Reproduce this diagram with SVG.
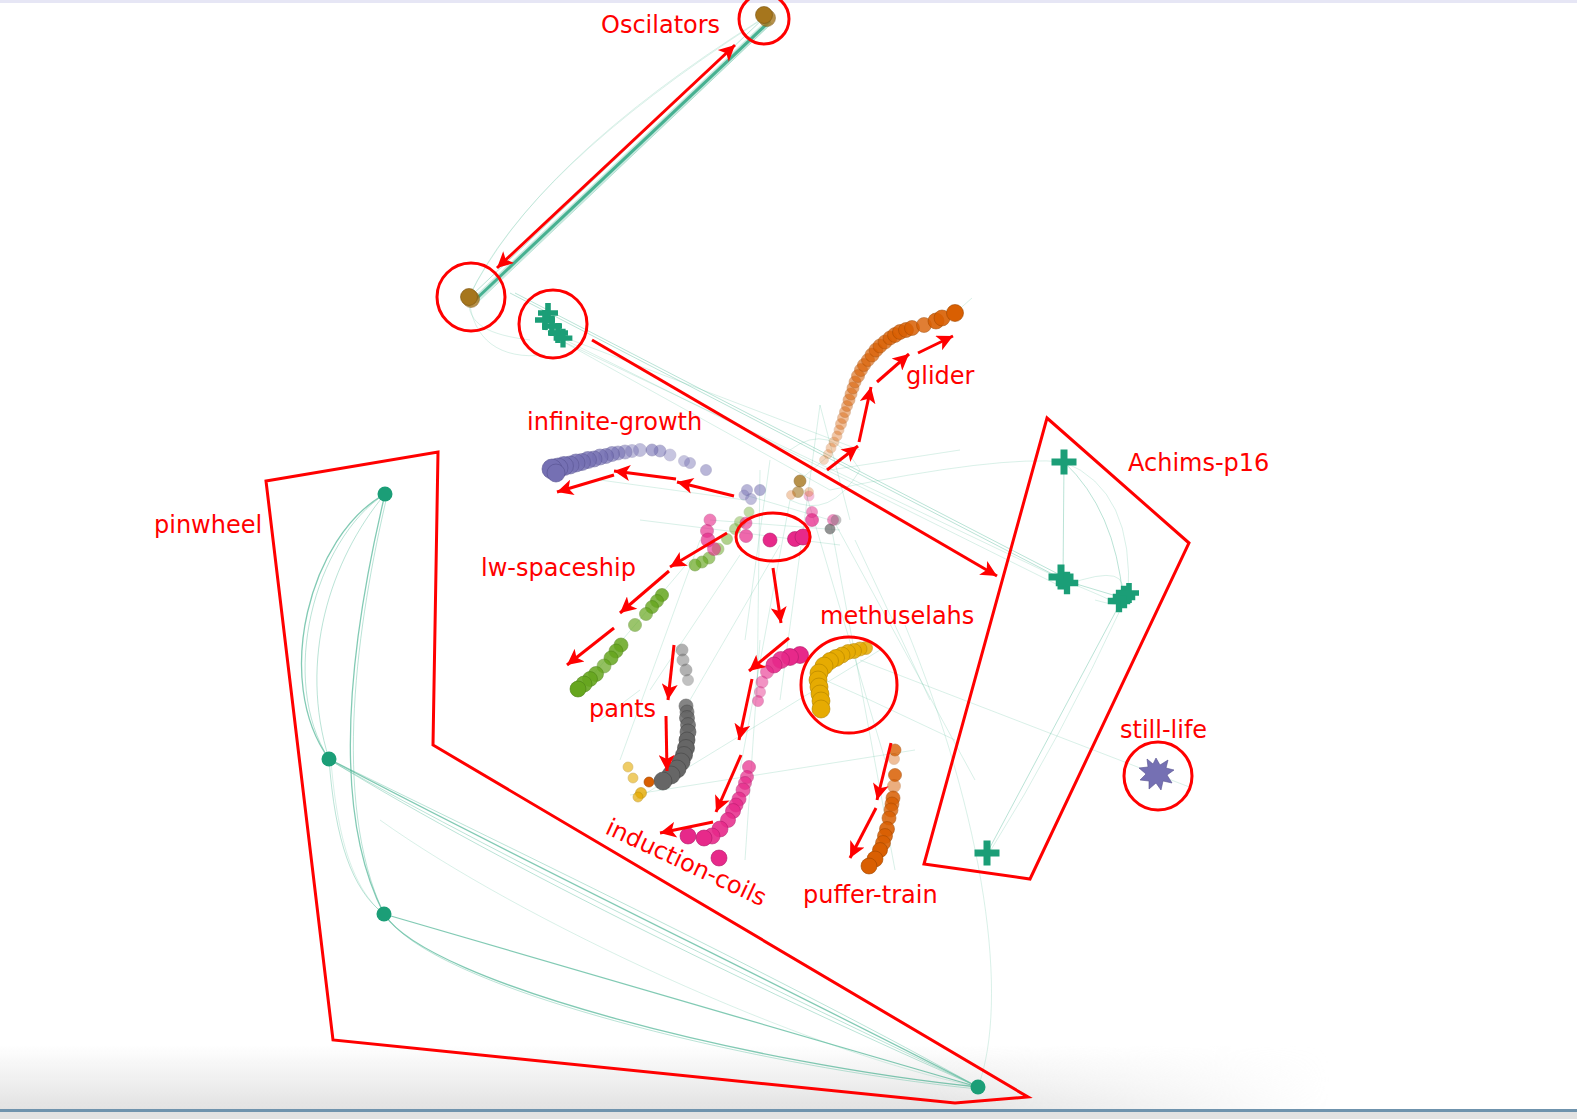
<svg xmlns="http://www.w3.org/2000/svg" width="1577" height="1119" viewBox="0 0 1577 1119">
<style>
.lbl{font-family:"DejaVu Sans","Verdana",sans-serif;font-size:24px;fill:#ff0000}
.ann{fill:none;stroke:#ff0000;stroke-width:3}
.arr{fill:none;stroke:#ff0000;stroke-width:3;marker-end:url(#ah)}
.e{fill:none;stroke:#66c2a5;stroke-width:1;stroke-opacity:.45}
.ef{fill:none;stroke:#66c2a5;stroke-width:1;stroke-opacity:.25}
.es{fill:none;stroke:#1b9e77;stroke-width:1.3;stroke-opacity:.55}
.o circle{fill:#d95f02;stroke:#a04600;stroke-width:.6}
.p circle{fill:#7570b3;stroke:#55508f;stroke-width:.6}
.k circle{fill:#e7298a;stroke:#b0196a;stroke-width:.6}
.g circle{fill:#66a61e;stroke:#4a7f12;stroke-width:.6}
.y circle{fill:#e6ab02;stroke:#b08200;stroke-width:.6}
.b circle{fill:#a6761d;stroke:#7a5410;stroke-width:.6}
.gr circle{fill:#666666;stroke:#444;stroke-width:.6}
.t{fill:#1b9e77}
</style>
<defs>
<marker id="ah" viewBox="0 0 10 10" refX="10" refY="5" markerWidth="20" markerHeight="16" orient="auto-start-reverse" markerUnits="userSpaceOnUse">
<path d="M0,0 L10,5 L0,10 L2.5,5 z" fill="#ff0000"/>
</marker>
<path id="plus" d="M-3.5,-12.5 h7 v9 h9 v7 h-9 v9 h-7 v-9 h-9 v-7 h9 z"/>
<linearGradient id="bg" x1="0" y1="0" x2="0" y2="1">
<stop offset="0" stop-color="#e2e2e2" stop-opacity="0"/>
<stop offset="1" stop-color="#e2e2e2" stop-opacity="1"/>
</linearGradient>
<linearGradient id="hg" x1="0" y1="0" x2="1" y2="0">
<stop offset="0" stop-color="#fff" stop-opacity="1"/>
<stop offset=".7" stop-color="#fff" stop-opacity="1"/>
<stop offset="1" stop-color="#fff" stop-opacity="0"/>
</linearGradient>
<mask id="hm"><rect x="0" y="1040" width="1330" height="75" fill="url(#hg)"/></mask>
</defs>
<rect width="1577" height="1119" fill="#ffffff"/>
<rect x="0" y="0" width="1577" height="3" fill="#e6e6f5"/>
<rect x="0" y="1045" width="1330" height="65" fill="url(#bg)" mask="url(#hm)"/>
<rect x="0" y="1109" width="1577" height="3" fill="#6f93ad"/>
<rect x="0" y="1112" width="1577" height="7" fill="#e2e2e2"/>

<g id="connectors">
<path d="M474,301 L770,21" fill="none" stroke="#66c2a5" stroke-width="6" stroke-opacity=".35"/>
<path d="M474,301 L770,21" fill="none" stroke="#1b9e77" stroke-width="3" stroke-opacity=".75"/>
<path class="e" d="M477,303 L772,23"/>
<path class="e" d="M470,297 L766,16"/>
<path class="ef" d="M469,297 Q535,162 760,20"/>
<path class="ef" d="M469,297 Q528,170 758,22"/>
<path class="ef" d="M469,297 C466,325 490,335 530,340"/>
<path class="ef" d="M469,297 C472,340 500,360 545,355"/>
<path class="e" d="M510,293 L1060,578"/>
<path class="e" d="M515,293 L1062,576"/>
<path class="ef" d="M560,340 L1063,580"/>
<path class="ef" d="M555,335 L1058,585"/>
<path class="ef" d="M560,340 L830,490"/>
<path class="ef" d="M545,330 L860,450"/>
<path class="e" d="M1064,462 L1063,580"/>
<path class="e" d="M1064,462 Q1115,510 1123,598"/>
<path class="ef" d="M1064,462 Q1135,490 1128,598"/>
<path class="ef" d="M1064,462 Q1000,455 830,490"/>
<path class="e" d="M1063,580 L1123,598"/>
<path class="ef" d="M1063,580 Q1150,615 1095,600"/>
<path class="ef" d="M1066,585 Q1135,560 1120,600"/>
<path class="e" d="M1123,598 L987,853"/>
<path class="ef" d="M1125,600 Q1060,740 989,853"/>
<path class="ef" d="M860,660 L1192,788"/>
<path class="ef" d="M978,1087 C1010,1000 985,820 905,625"/>
<path class="ef" d="M770,460 L745,640"/>
<path class="ef" d="M820,405 L780,700"/>
<path class="ef" d="M820,405 L850,520"/>
<path class="ef" d="M760,470 L757,700"/>
<path class="ef" d="M790,500 L740,770"/>
<path class="ef" d="M805,490 L885,760"/>
<path class="ef" d="M830,520 L895,870"/>
<path class="ef" d="M836,525 L975,780"/>
<path class="ef" d="M710,520 L840,530"/>
<path class="ef" d="M745,495 L830,520"/>
<path class="ef" d="M640,520 L840,545"/>
<path class="ef" d="M600,480 L745,500"/>
<path class="ef" d="M700,540 L620,760"/>
<path class="ef" d="M740,555 L650,690"/>
<path class="ef" d="M780,545 L690,700"/>
<path class="ef" d="M880,650 L635,800"/>
<path class="ef" d="M915,750 L630,795"/>
<path class="ef" d="M825,680 L870,700 L955,740"/>
<path class="ef" d="M640,690 L600,720"/>
<path class="ef" d="M760,640 L745,860"/>
<path class="ef" d="M790,450 Q830,420 860,470 Q830,520 790,500"/>
<path class="ef" d="M830,470 L960,450"/>
<path class="ef" d="M855,540 L930,700"/>
<path class="ef" d="M955,313 L972,298"/>
<path class="ef" d="M826,458 L800,480"/>
<path class="ef" d="M690,560 L580,690"/>
<path class="es" d="M385,494 C310,535 272,680 329,759"/>
<path class="e" d="M385,494 C314,540 278,680 329,759"/>
<path class="e" d="M385,494 C330,560 298,660 329,759"/>
<path class="es" d="M385,494 C355,620 325,800 384,914"/>
<path class="e" d="M387,496 C358,620 330,800 384,914"/>
<path class="e" d="M329,759 C335,840 352,890 384,914"/>
<path class="ef" d="M331,761 C338,845 355,892 386,916"/>
<path class="es" d="M329,759 C520,860 790,990 978,1087"/>
<path class="e" d="M329,759 C525,855 795,985 978,1087"/>
<path class="e" d="M331,761 C515,865 785,995 978,1087"/>
<path class="e" d="M330,760 C510,870 780,1000 976,1086"/>
<path class="es" d="M384,914 L978,1087"/>
<path class="es" d="M384,914 C430,985 760,1065 978,1087"/>
<path class="e" d="M386,916 C435,990 765,1068 978,1089"/>
<path class="ef" d="M380,820 C520,920 800,1050 978,1087"/>
</g>

<g id="oscillators">
<g class="b"><circle cx="767" cy="18" r="8.5" opacity=".8"/><circle cx="764" cy="15" r="8.5"/><circle cx="471" cy="299" r="8.5" opacity=".8"/><circle cx="469" cy="297" r="8.5"/></g>
</g>

<g id="achims-crosses" class="t">
<use href="#plus" transform="translate(548,313) scale(.8)"/>
<use href="#plus" transform="translate(545,320) scale(.8)"/>
<use href="#plus" transform="translate(552,326) scale(.8)"/>
<use href="#plus" transform="translate(558,333) scale(.8)"/>
<use href="#plus" transform="translate(563,338) scale(.75)"/>
<use href="#plus" transform="translate(1064,462)"/>
<use href="#plus" transform="translate(1061,577)"/>
<use href="#plus" transform="translate(1067,583) scale(.9)"/>
<use href="#plus" transform="translate(1119,601) scale(.9)"/>
<use href="#plus" transform="translate(1124,597) scale(.9)"/>
<use href="#plus" transform="translate(1129,593) scale(.8)"/>
<use href="#plus" transform="translate(987,853)"/>
</g>

<g id="pinwheel-nodes" class="t">
<circle cx="385" cy="494" r="7.5"/><circle cx="329" cy="759" r="7.5"/><circle cx="384" cy="914" r="7.5"/><circle cx="978" cy="1087" r="7.5"/>
</g>

<g id="still-life-node">
<polygon points="1156,758 1160,765 1168,760 1166,768 1174,770 1167,775 1172,783 1163,781 1161,790 1156,783 1149,789 1149,781 1140,780 1146,774 1139,768 1148,767 1147,759 1153,764" fill="#7570b3" stroke="#55508f" stroke-width=".6"/>
</g>

<g id="glider-dots" class="o">
<circle cx="824" cy="460" r="4.5" opacity=".25"/><circle cx="828" cy="454" r="4.5" opacity=".25"/><circle cx="831" cy="448" r="5" opacity=".3"/><circle cx="834" cy="442" r="5" opacity=".3"/>
<circle cx="837" cy="436" r="5" opacity=".35"/><circle cx="839" cy="430" r="5" opacity=".35"/><circle cx="841" cy="424" r="5.5" opacity=".4"/><circle cx="843" cy="418" r="5.5" opacity=".4"/>
<circle cx="845" cy="412" r="5.5" opacity=".45"/><circle cx="847" cy="406" r="5.5" opacity=".45"/><circle cx="849" cy="400" r="6" opacity=".5"/><circle cx="851" cy="394" r="6" opacity=".5"/>
<circle cx="853" cy="388" r="6" opacity=".55"/><circle cx="855" cy="382" r="6" opacity=".55"/><circle cx="858" cy="376" r="6.5" opacity=".6"/><circle cx="861" cy="370" r="6.5" opacity=".6"/>
<circle cx="864" cy="365" r="6.5" opacity=".65"/><circle cx="868" cy="360" r="6.5" opacity=".65"/><circle cx="872" cy="355" r="7" opacity=".7"/><circle cx="876" cy="350" r="7" opacity=".7"/>
<circle cx="880" cy="346" r="7" opacity=".75"/><circle cx="885" cy="342" r="7" opacity=".75"/><circle cx="890" cy="338" r="7" opacity=".8"/><circle cx="895" cy="335" r="7.5" opacity=".8"/>
<circle cx="900" cy="332" r="7.5" opacity=".85"/><circle cx="906" cy="330" r="7.5" opacity=".85"/><circle cx="912" cy="328" r="7.5" opacity=".85"/><circle cx="924" cy="325" r="7.5" opacity=".8"/>
<circle cx="936" cy="321" r="8" opacity=".9"/><circle cx="942" cy="318" r="8" opacity=".9"/><circle cx="955" cy="313" r="8.5"/>
</g>

<g id="infinite-growth-dots" class="p">
<circle cx="747" cy="490" r="5.5" opacity=".5"/><circle cx="751" cy="499" r="5.5" opacity=".45"/><circle cx="760" cy="490" r="5.5" opacity=".55"/><circle cx="744" cy="495" r="5" opacity=".4"/>
<circle cx="706" cy="470" r="5.5" opacity=".5"/><circle cx="690" cy="463" r="5.5" opacity=".45"/><circle cx="684" cy="461" r="5.5" opacity=".4"/>
<circle cx="670" cy="455" r="6" opacity=".4"/><circle cx="660" cy="451" r="6" opacity=".55"/><circle cx="652" cy="450" r="6" opacity=".6"/>
<circle cx="640" cy="450" r="6.5" opacity=".45"/><circle cx="632" cy="451" r="6.5" opacity=".45"/><circle cx="625" cy="452" r="7" opacity=".55"/>
<circle cx="618" cy="453" r="7" opacity=".6"/><circle cx="612" cy="454" r="7.5" opacity=".65"/><circle cx="606" cy="456" r="7.5" opacity=".7"/>
<circle cx="600" cy="457" r="8" opacity=".7"/><circle cx="594" cy="459" r="8" opacity=".75"/><circle cx="588" cy="460" r="8.5" opacity=".8"/>
<circle cx="582" cy="462" r="8.5" opacity=".8"/><circle cx="576" cy="463" r="9" opacity=".85"/><circle cx="570" cy="465" r="9" opacity=".85"/>
<circle cx="564" cy="466" r="9.5" opacity=".9"/><circle cx="558" cy="468" r="10" opacity=".9"/><circle cx="552" cy="469" r="10"/><circle cx="556" cy="473" r="9"/>
</g>

<g id="lw-spaceship-dots" class="g">
<circle cx="749" cy="512" r="5" opacity=".4"/><circle cx="740" cy="522" r="5.5" opacity=".4"/><circle cx="735" cy="529" r="5.5" opacity=".45"/><circle cx="727" cy="539" r="5.5" opacity=".5"/>
<circle cx="718" cy="549" r="6" opacity=".5"/><circle cx="709" cy="558" r="6" opacity=".6"/><circle cx="702" cy="562" r="6" opacity=".65"/><circle cx="695" cy="565" r="6" opacity=".7"/>
<circle cx="662" cy="595" r="6.5" opacity=".85"/><circle cx="657" cy="601" r="6.5" opacity=".8"/><circle cx="652" cy="607" r="6.5" opacity=".8"/><circle cx="646" cy="614" r="6.5" opacity=".7"/><circle cx="635" cy="625" r="6.5" opacity=".65"/>
<circle cx="621" cy="645" r="7" opacity=".85"/><circle cx="616" cy="651" r="7" opacity=".85"/><circle cx="611" cy="658" r="7" opacity=".85"/><circle cx="604" cy="666" r="7" opacity=".7"/>
<circle cx="596" cy="674" r="7.5" opacity=".85"/><circle cx="590" cy="679" r="7.5" opacity=".9"/><circle cx="584" cy="684" r="8" opacity=".9"/><circle cx="578" cy="689" r="8"/>
</g>

<g id="pink-dots" class="k">
<circle cx="710" cy="520" r="6" opacity=".6"/><circle cx="707" cy="531" r="6.5" opacity=".65"/><circle cx="708" cy="540" r="7" opacity=".7"/><circle cx="714" cy="549" r="6.5" opacity=".6"/>
<circle cx="746" cy="523" r="6" opacity=".6"/><circle cx="746" cy="536" r="6.5" opacity=".7"/>
<circle cx="770" cy="540" r="7"/><circle cx="795" cy="539" r="7.5"/><circle cx="803" cy="537" r="8"/>
<circle cx="812" cy="520" r="6.5" opacity=".75"/><circle cx="812" cy="512" r="5.5" opacity=".5"/><circle cx="833" cy="520" r="5.5" opacity=".5"/><circle cx="809" cy="496" r="5" opacity=".3"/>
<circle cx="800" cy="655" r="8.5"/><circle cx="790" cy="657" r="8.5"/><circle cx="781" cy="660" r="8.5" opacity=".9"/><circle cx="774" cy="665" r="8" opacity=".9"/>
<circle cx="767" cy="672" r="6.5" opacity=".6"/><circle cx="762" cy="682" r="6" opacity=".5"/><circle cx="760" cy="692" r="5.5" opacity=".45"/><circle cx="758" cy="701" r="5.5" opacity=".55"/>
<circle cx="749" cy="767" r="6.5" opacity=".7"/><circle cx="747" cy="777" r="6.5" opacity=".7"/><circle cx="745" cy="783" r="6.5" opacity=".7"/><circle cx="743" cy="790" r="7" opacity=".75"/>
<circle cx="739" cy="799" r="7" opacity=".8"/><circle cx="736" cy="805" r="7" opacity=".8"/><circle cx="733" cy="811" r="7.5" opacity=".85"/><circle cx="728" cy="820" r="7.5" opacity=".85"/>
<circle cx="720" cy="829" r="8" opacity=".9"/><circle cx="712" cy="836" r="8" opacity=".9"/><circle cx="704" cy="838" r="8"/><circle cx="688" cy="836" r="8"/><circle cx="719" cy="858" r="8"/>
</g>

<g id="methuselahs-dots" class="y">
<circle cx="866" cy="648" r="6.5" opacity=".85"/><circle cx="860" cy="649" r="7" opacity=".85"/><circle cx="854" cy="651" r="7.5" opacity=".9"/><circle cx="848" cy="652" r="7.5" opacity=".9"/>
<circle cx="842" cy="655" r="8" opacity=".9"/><circle cx="836" cy="658" r="8.5"/><circle cx="830" cy="661" r="8.5"/><circle cx="824" cy="666" r="9"/>
<circle cx="819" cy="673" r="9"/><circle cx="818" cy="680" r="9"/><circle cx="819" cy="687" r="9"/><circle cx="820" cy="694" r="9"/><circle cx="821" cy="701" r="9"/><circle cx="821" cy="709" r="9"/>
</g>

<g id="pants-dots" class="gr">
<circle cx="682" cy="650" r="6" opacity=".5"/><circle cx="683" cy="660" r="6" opacity=".45"/><circle cx="686" cy="670" r="6" opacity=".5"/><circle cx="688" cy="680" r="5.5" opacity=".4"/>
<circle cx="686" cy="706" r="7" opacity=".8"/><circle cx="687" cy="712" r="7" opacity=".8"/><circle cx="687" cy="718" r="7.5" opacity=".85"/><circle cx="688" cy="725" r="7.5" opacity=".85"/><circle cx="688" cy="732" r="8" opacity=".9"/>
<circle cx="687" cy="740" r="8"/><circle cx="686" cy="748" r="8.5"/><circle cx="684" cy="755" r="8.5"/><circle cx="681" cy="762" r="9"/><circle cx="677" cy="769" r="9"/><circle cx="671" cy="775" r="9"/><circle cx="663" cy="781" r="9"/>
</g>
<g id="small-dots">
<g class="y"><circle cx="628" cy="767" r="5" opacity=".6"/><circle cx="633" cy="778" r="5" opacity=".6"/><circle cx="641" cy="793" r="5.5" opacity=".8"/><circle cx="638" cy="797" r="5" opacity=".7"/></g>
<g class="o"><circle cx="649" cy="782" r="5"/></g>
<g class="b"><circle cx="800" cy="481" r="6" opacity=".8"/><circle cx="798" cy="492" r="5.5" opacity=".6"/></g>
<g class="o"><circle cx="809" cy="492" r="4.5" opacity=".3"/><circle cx="791" cy="495" r="4.5" opacity=".3"/></g>
<g class="gr"><circle cx="830" cy="529" r="5" opacity=".7"/><circle cx="836" cy="520" r="5" opacity=".4"/></g>
</g>

<g id="puffer-train-dots" class="o">
<circle cx="895" cy="750" r="6" opacity=".8"/><circle cx="894" cy="759" r="5.5" opacity=".4"/>
<circle cx="895" cy="775" r="6.5" opacity=".85"/><circle cx="894" cy="786" r="6.5" opacity=".5"/><circle cx="893" cy="798" r="7" opacity=".85"/>
<circle cx="892" cy="804" r="7" opacity=".8"/><circle cx="891" cy="810" r="7" opacity=".8"/><circle cx="889" cy="818" r="7" opacity=".85"/><circle cx="887" cy="829" r="7.5" opacity=".9"/>
<circle cx="885" cy="836" r="7.5" opacity=".9"/><circle cx="883" cy="843" r="7.5" opacity=".9"/><circle cx="880" cy="850" r="7.5"/><circle cx="875" cy="859" r="8"/><circle cx="869" cy="866" r="8"/>
</g>

<g id="annotations">
<circle class="ann" cx="764" cy="19" r="25"/>
<circle class="ann" cx="471" cy="297" r="34"/>
<circle class="ann" cx="553" cy="324" r="34"/>
<line x1="497" y1="268" x2="735" y2="45" class="ann" marker-start="url(#ah)" marker-end="url(#ah)"/>
<line class="arr" x1="592" y1="340" x2="997" y2="576"/>
<polygon class="ann" points="1047,418 1189,543 1030,879 924,864"/>
<circle class="ann" cx="1158" cy="776" r="34"/>
<polygon class="ann" points="266,481 438,452 433,745 1028,1097 955,1103 333,1040"/>
<ellipse class="ann" cx="773" cy="537" rx="37" ry="24"/>
<circle class="ann" cx="849" cy="685" r="48"/>
<line class="arr" x1="827" y1="470" x2="858" y2="446"/>
<line class="arr" x1="859" y1="442" x2="871" y2="387"/>
<line class="arr" x1="877" y1="382" x2="909" y2="354"/>
<line class="arr" x1="918" y1="353" x2="953" y2="336"/>
<line class="arr" x1="734" y1="496" x2="677" y2="482"/>
<line class="arr" x1="676" y1="479" x2="614" y2="471"/>
<line class="arr" x1="614" y1="475" x2="557" y2="492"/>
<line class="arr" x1="727" y1="533" x2="670" y2="567"/>
<line class="arr" x1="669" y1="571" x2="620" y2="613"/>
<line class="arr" x1="614" y1="628" x2="567" y2="665"/>
<line class="arr" x1="773" y1="568" x2="781" y2="623"/>
<line class="arr" x1="789" y1="638" x2="749" y2="671"/>
<line class="arr" x1="752" y1="679" x2="739" y2="740"/>
<line class="arr" x1="741" y1="755" x2="716" y2="812"/>
<line class="arr" x1="713" y1="822" x2="660" y2="833"/>
<line class="arr" x1="674" y1="645" x2="668" y2="700"/>
<line class="arr" x1="666" y1="716" x2="667" y2="771"/>
<line class="arr" x1="891" y1="743" x2="877" y2="800"/>
<line class="arr" x1="876" y1="808" x2="850" y2="858"/>
</g>

<g id="labels">
<text class="lbl" x="601" y="33">Oscilators</text>
<text class="lbl" x="906" y="384">glider</text>
<text class="lbl" x="527" y="430">infinite-growth</text>
<text class="lbl" x="1128" y="471">Achims-p16</text>
<text class="lbl" x="154" y="533">pinwheel</text>
<text class="lbl" x="481" y="576">lw-spaceship</text>
<text class="lbl" x="820" y="624">methuselahs</text>
<text class="lbl" x="589" y="717">pants</text>
<text class="lbl" x="1120" y="738">still-life</text>
<text class="lbl" x="604" y="833" transform="rotate(25 604 833)">induction-coils</text>
<text class="lbl" x="803" y="903">puffer-train</text>
</g>
</svg>
